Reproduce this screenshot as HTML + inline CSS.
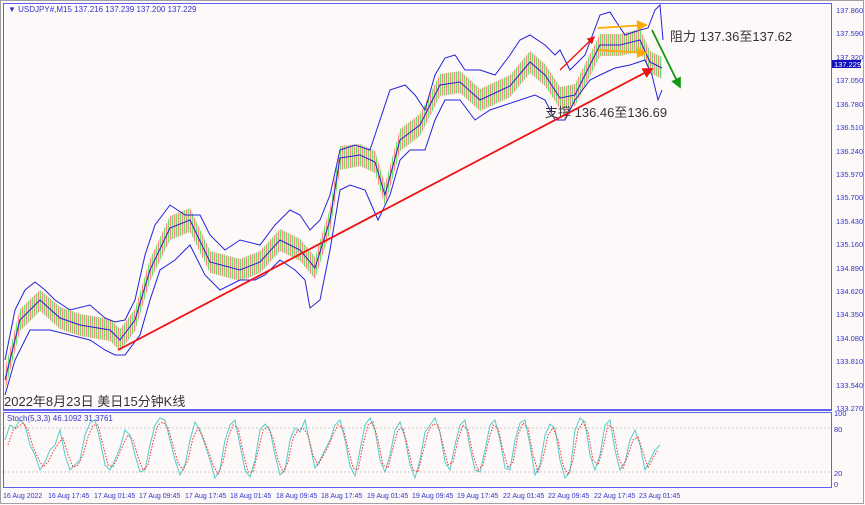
<!DOCTYPE html>
<html><head><meta charset="utf-8"><style>
html,body{margin:0;padding:0;background:#fcfafa;}
svg{display:block;font-family:"Liberation Sans","Noto Sans CJK SC",sans-serif;}
</style></head><body>
<svg width="865" height="505" xmlns="http://www.w3.org/2000/svg">
<defs>
<marker id="mr" markerWidth="6" markerHeight="6" refX="5" refY="3" orient="auto"><path d="M0,0L6,3L0,6z" fill="#ee1111"/></marker>
<marker id="mo" markerWidth="6" markerHeight="6" refX="5" refY="3" orient="auto"><path d="M0,0L6,3L0,6z" fill="#ffaa00"/></marker>
<marker id="mg" markerWidth="6" markerHeight="6" refX="5" refY="3" orient="auto"><path d="M0,0L6,3L0,6z" fill="#119911"/></marker>
<pattern id="cd" x="0" y="0" width="4" height="10" patternUnits="userSpaceOnUse">
<rect x="0" y="0" width="1.3" height="10" fill="#66dd66"/>
<rect x="2" y="0" width="1.3" height="10" fill="#ff8080"/>
</pattern>
</defs>
<rect x="0" y="0" width="865" height="505" fill="#fdf9f8"/>
<rect x="0.5" y="0.5" width="863" height="503" fill="none" stroke="#a0a0a0"/>
<rect x="3.5" y="3.5" width="828" height="406" fill="none" stroke="#6060ee"/>
<line x1="3" y1="410" x2="832" y2="410" stroke="#6060ee" stroke-width="2"/>
<rect x="3.5" y="412.5" width="828" height="75" fill="none" stroke="#6060ee"/>
<line x1="4" y1="428" x2="831" y2="428" stroke="#c8c8c8" stroke-dasharray="2,2"/>
<line x1="4" y1="472" x2="831" y2="472" stroke="#c8c8c8" stroke-dasharray="2,2"/>

<path fill="url(#cd)" opacity="0.95" d="M5,369 L20,309 L40,290 L60,307 L80,314 L110,319 L120,329 L135,309 L150,259 L170,216 L190,208 L210,251 L240,259 L260,251 L280,229 L300,239 L315,257 L330,208 L340,146 L360,144 L375,151 L385,184 L400,129 L420,114 L440,74 L460,71 L480,89 L510,75 L530,51 L545,64 L560,87 L575,84 L600,34 L620,34 L640,29 L650,51 L662,57 L662,79 L650,73 L640,51 L620,56 L600,56 L575,106 L560,109 L545,86 L530,73 L510,97 L480,111 L460,93 L440,96 L420,136 L400,151 L385,206 L375,173 L360,166 L340,170 L330,232 L315,279 L300,261 L280,251 L260,273 L240,281 L210,273 L190,232 L170,240 L150,281 L135,331 L120,351 L110,341 L80,336 L60,329 L40,311 L20,331 L5,391 Z"/>

<g fill="none" stroke="#2222dd" stroke-width="1">
<path d="M5,360 L15,310 L25,290 L35,282 L45,290 L55,300 L70,310 L90,305 L105,318 L115,322 L125,320 L135,300 L145,255 L155,225 L170,205 L185,215 L200,215 L210,235 L225,250 L240,240 L260,245 L275,225 L290,210 L300,215 L310,230 L320,220 L330,195 L340,150 L355,145 L370,150 L380,120 L390,90 L405,85 L415,95 L425,110 L435,75 L445,58 L455,55 L465,70 L480,70 L495,75 L510,55 L520,40 L530,35 L545,45 L555,55 L560,50 L570,70 L585,55 L600,15 L610,12 L615,20 L625,35 L640,30 L648,28 L655,10 L660,5 L663,40"/>
<path d="M5,380 L20,320 L40,300 L60,318 L80,325 L110,330 L120,340 L135,320 L150,270 L170,228 L190,220 L210,262 L240,270 L260,262 L280,240 L300,250 L315,268 L330,220 L340,158 L360,155 L375,162 L385,195 L400,140 L420,125 L440,85 L460,82 L480,100 L510,86 L530,62 L545,75 L560,98 L575,95 L600,45 L620,45 L640,40 L650,62 L662,68"/>
<path d="M5,395 L15,360 L30,330 L50,330 L70,335 L90,340 L105,350 L115,355 L125,355 L140,335 L150,300 L160,270 L175,260 L190,245 L205,275 L220,290 L240,280 L255,280 L265,275 L280,260 L295,270 L305,280 L310,308 L320,300 L330,250 L340,190 L350,185 L365,190 L378,220 L390,195 L400,160 L410,150 L425,150 L435,120 L445,100 L460,100 L475,120 L490,110 L505,105 L520,100 L535,95 L545,100 L555,120 L565,120 L575,100 L590,80 L600,75 L615,68 L630,65 L645,60 L652,75 L658,100 L662,90"/>
</g>

<path fill="none" stroke="#55cccc" stroke-width="1" d="M5,440 L10,425 L15,428 L20,420 L25,425 L30,445 L35,455 L40,470 L45,462 L50,450 L55,445 L60,430 L65,455 L70,470 L75,465 L80,460 L85,435 L90,423 L95,420 L100,440 L105,465 L110,470 L115,460 L120,448 L125,430 L130,435 L135,455 L140,472 L145,470 L150,445 L155,425 L160,418 L165,420 L170,440 L175,460 L180,475 L185,465 L190,440 L195,422 L200,430 L205,445 L210,460 L215,478 L220,470 L225,440 L230,425 L235,420 L240,445 L245,470 L250,477 L255,460 L260,430 L265,424 L270,430 L275,455 L280,475 L285,470 L290,440 L295,428 L300,432 L305,420 L310,445 L315,468 L320,460 L325,450 L330,440 L335,425 L340,420 L345,440 L350,466 L355,476 L360,450 L365,425 L370,418 L375,430 L380,460 L385,472 L390,455 L395,430 L400,422 L405,438 L410,465 L415,478 L420,460 L425,432 L430,425 L435,418 L440,432 L445,462 L450,470 L455,445 L460,425 L465,420 L470,448 L475,470 L480,472 L485,450 L490,425 L495,420 L500,440 L505,468 L510,470 L515,440 L520,423 L525,420 L530,445 L535,475 L540,465 L545,435 L550,424 L555,428 L560,460 L565,478 L570,472 L575,430 L580,418 L585,422 L590,455 L595,470 L600,455 L605,425 L610,420 L615,450 L620,470 L625,462 L630,440 L635,430 L640,445 L645,470 L650,460 L655,450 L660,445"/>
<path fill="none" stroke="#ee3333" stroke-width="1" stroke-dasharray="1.5,1.5" d="M8,445 L13,430 L18,427 L23,423 L28,430 L33,447 L38,458 L43,467 L48,462 L53,452 L58,444 L63,438 L68,455 L73,467 L78,465 L83,455 L88,437 L93,425 L98,425 L103,445 L108,465 L113,467 L118,457 L123,445 L128,435 L133,440 L138,457 L143,470 L148,465 L153,442 L158,425 L163,422 L168,428 L173,445 L178,463 L183,470 L188,460 L193,438 L198,428 L203,437 L208,450 L213,465 L218,474 L223,462 L228,438 L233,425 L238,428 L243,452 L248,472 L253,472 L258,452 L263,430 L268,427 L273,438 L278,460 L283,472 L288,462 L293,438 L298,430 L303,428 L308,435 L313,455 L318,465 L323,456 L328,447 L333,435 L338,425 L343,428 L348,448 L353,468 L358,470 L363,445 L368,425 L373,422 L378,440 L383,465 L388,468 L393,448 L398,430 L403,428 L408,448 L413,470 L418,472 L423,452 L428,432 L433,424 L438,425 L443,445 L448,465 L453,462 L458,440 L463,425 L468,430 L473,455 L478,470 L483,465 L488,443 L493,425 L498,428 L503,450 L508,468 L513,462 L518,435 L523,423 L528,428 L533,455 L538,472 L543,458 L548,435 L553,428 L558,440 L563,465 L568,475 L573,460 L578,430 L583,422 L588,432 L593,460 L598,465 L603,448 L608,425 L613,428 L618,455 L623,468 L628,455 L633,440 L638,437 L643,452 L648,468 L653,458 L658,450"/>

<g font-size="8" fill="#3333cc">
<text x="8" y="12">▼ USDJPY#,M15  137.216 137.239 137.200 137.229</text>
<text x="7" y="421">Stoch(5,3,3) 46.1092 31.3761</text>
</g>

<g font-size="7.5" fill="#3333cc">
<text x="836" y="13">137.860</text><text x="836" y="36">137.590</text><text x="836" y="60">137.320</text>
<text x="836" y="83">137.050</text><text x="836" y="107">136.780</text><text x="836" y="130">136.510</text>
<text x="836" y="154">136.240</text><text x="836" y="177">135.970</text><text x="836" y="200">135.700</text>
<text x="836" y="224">135.430</text><text x="836" y="247">135.160</text><text x="836" y="271">134.890</text>
<text x="836" y="294">134.620</text><text x="836" y="317">134.350</text><text x="836" y="341">134.080</text>
<text x="836" y="364">133.810</text><text x="836" y="388">133.540</text><text x="836" y="411">133.270</text>
<text x="834" y="416">100</text><text x="834" y="432">80</text><text x="834" y="476">20</text><text x="834" y="487">0</text>
</g>
<g font-size="7" fill="#3333cc">
<text x="3" y="498">16 Aug 2022</text><text x="48" y="498">16 Aug 17:45</text><text x="94" y="498">17 Aug 01:45</text>
<text x="139" y="498">17 Aug 09:45</text><text x="185" y="498">17 Aug 17:45</text><text x="230" y="498">18 Aug 01:45</text>
<text x="276" y="498">18 Aug 09:45</text><text x="321" y="498">18 Aug 17:45</text><text x="367" y="498">19 Aug 01:45</text>
<text x="412" y="498">19 Aug 09:45</text><text x="457" y="498">19 Aug 17:45</text><text x="503" y="498">22 Aug 01:45</text>
<text x="548" y="498">22 Aug 09:45</text><text x="594" y="498">22 Aug 17:45</text><text x="639" y="498">23 Aug 01:45</text>
</g>
<rect x="832" y="60" width="29" height="8" fill="#1111bb"/>
<text x="834" y="67" font-size="7.5" fill="#fff">137.229</text>

<g font-size="13" fill="#333">
<text x="670" y="41">阻力 137.36至137.62</text>
<text x="545" y="117">支撑 136.46至136.69</text>
<text x="4" y="406">2022年8月23日 美日15分钟K线</text>
</g>
<line x1="118" y1="350" x2="652" y2="69" stroke="#ee1111" stroke-width="1.8" marker-end="url(#mr)"/>
<line x1="560" y1="70" x2="594" y2="37" stroke="#ee1111" stroke-width="1.3" marker-end="url(#mr)"/>
<line x1="598" y1="28" x2="646" y2="25" stroke="#ffaa00" stroke-width="1.8" marker-end="url(#mo)"/>
<line x1="598" y1="50" x2="646" y2="53" stroke="#ffaa00" stroke-width="1.8" marker-end="url(#mo)"/>
<line x1="652" y1="30" x2="680" y2="87" stroke="#119911" stroke-width="1.8" marker-end="url(#mg)"/>
</svg>
</body></html>
